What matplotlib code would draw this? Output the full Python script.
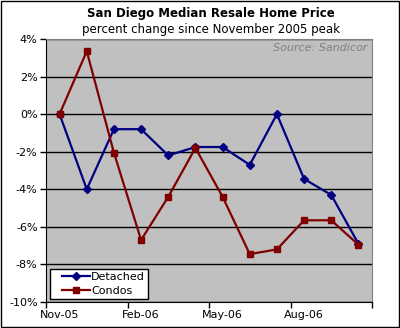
import numpy as np
import matplotlib
matplotlib.use("Agg")
import matplotlib.pyplot as plt
from matplotlib.patches import Rectangle
from matplotlib.legend_handler import HandlerLine2D

# monthly values, Nov-05 .. Oct-06 (percent change since Nov-05)
months = ["Nov-05", "Dec-05", "Jan-06", "Feb-06", "Mar-06", "Apr-06",
          "May-06", "Jun-06", "Jul-06", "Aug-06", "Sep-06", "Oct-06"]
detached = [0.0, -4.0, -0.8, -0.8, -2.2, -1.75, -1.75, -2.7, 0.0, -3.45, -4.3, -6.9]
condos = [0.0, 3.35, -2.05, -6.7, -4.4, -1.8, -4.4, -7.45, -7.2, -5.65, -5.65, -6.95]

plt.rcParams['font.family'] = ['DejaVu Sans']

fig = plt.figure(figsize=(4.0, 3.28), dpi=100)
ax = fig.add_axes([46/400, 1-302/328, (372-46)/400, (302-39)/328])
ax.set_facecolor("#C0C0C0")

x = np.arange(len(months)) + 0.5
ax.plot(x, detached, color="#000080", lw=1.6, marker="D", ms=4, label="Detached")
ax.plot(x, condos, color="#800000", lw=1.6, marker="s", ms=4.5, label="Condos")

# category axis: tick marks between months, labels every 3rd month
ax.set_xlim(0, 12)
ax.set_ylim(-10, 4)
ax.set_xticks([0, 3, 6, 9, 12])
ax.set_xticklabels([])
ax.set_xticks(x[::3], minor=True)
ax.set_xticklabels(months[::3], minor=True, fontsize=8)
ax.tick_params(axis="x", which="minor", length=0, pad=6)
yt = np.arange(-10, 5, 2)
ax.set_yticks(yt)
ax.set_yticklabels(["%d%%" % v for v in yt], fontsize=8)
ax.grid(axis="y", color="black", lw=1)
ax.set_axisbelow(True)
ax.tick_params(which="major", length=4, width=1, color="black", pad=2)

for s in ["top", "right"]:
    ax.spines[s].set_color("#808080")
for s in ["left", "bottom"]:
    ax.spines[s].set_color("black")

leg = ax.legend(loc="lower left", fontsize=8, frameon=True, fancybox=False,
                edgecolor="black", framealpha=1, borderpad=0.3,
                handlelength=3.3, handletextpad=0.1, labelspacing=0.35,
                borderaxespad=0, bbox_to_anchor=(0.012, 0.011),
                handler_map={plt.Line2D: HandlerLine2D(xpad=0.8)})
leg.get_frame().set_linewidth(1)

ax.text(0.985, 0.985, "Source: Sandicor", transform=ax.transAxes, ha="right",
        va="top", fontsize=8, style="italic", color="#808080")

fig.text(211/400, 1-14/328, "San Diego Median Resale Home Price", ha="center",
         va="center", fontsize=8.5, fontweight="bold")
fig.text(211/400, 1-29/328, "percent change since November 2005 peak",
         ha="center", va="center", fontsize=8.5)

fig.patches.append(Rectangle((0.003, 0.003), 0.994, 0.994, transform=fig.transFigure,
                             fill=False, edgecolor="black", lw=1))

fig.savefig("out.png", dpi=100)
